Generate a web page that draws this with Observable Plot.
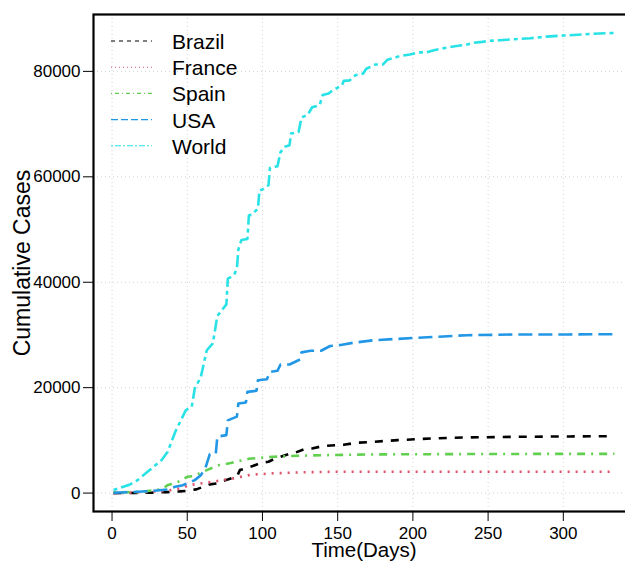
<!DOCTYPE html>
<html>
<head>
<meta charset="utf-8">
<script src="https://cdn.jsdelivr.net/npm/d3@7"></script>
<script src="https://cdn.jsdelivr.net/npm/@observablehq/plot@0.6"></script>
<style>
  html, body { margin: 0; padding: 0; background: #fff; overflow: hidden; }
  #wrap { position: relative; width: 625px; height: 561px; overflow: hidden; }
  #legend { position: absolute; left: 0; top: 0; pointer-events: none; }
</style>
</head>
<body>
<div id="wrap"></div>
<script>
// ---- data ----
const seriesNames = ["Brazil", "France", "Spain", "USA", "World"];
const seriesColors = ["#000000", "#DF536B", "#61D04F", "#2297E6", "#28E2E5"];
const seriesDash = ["8,8", "2,6", "2,6,8,6", "14,6", "4,4,12,4"];
const legendDash = ["4,4", "1,3", "1,3,4,3", "7,3", "2,2,6,2"];

const brazilDays = [1,25,37,45,50,56,65,70,77,83,85,92,94,99,104,110,112,119,122,128,133,140,149,154,162,174,190,213,236,270,304,334];
const brazilCases = [0,60,190,320,440,700,1650,1840,2600,3100,4360,5000,5180,5750,5940,6770,6880,7530,7700,8340,8470,8910,9100,9160,9540,9730,10050,10370,10560,10680,10750,10800];

const franceDays = [1,12,37,41,46,51,56,62,67,73,79,83,89,94,100,105,112,123,134,145,200,260,334];
const franceCases = [0,60,440,700,890,1500,1700,1950,2140,2460,2700,2900,3300,3540,3600,3730,3790,3920,3980,4040,4040,4040,4040];

const spainDays = [1,17,25,33,37,44,50,54,63,71,79,85,91,107,123,140,156,174,250,334];
const spainCases = [150,190,440,700,1500,2140,3090,3220,4360,5310,5700,6120,6500,6880,7070,7200,7260,7340,7420,7450];

const usaDays = [1,17,28,37,42,47,55,59,62,65,69,70,76,77,83,84,89,90,96,97,103,105,110,112,118,125,126,132,139,145,152,160,174,202,236,270,304,334];
const usaCases = [60,250,440,700,1200,1500,2460,3400,4700,7400,7530,10700,11000,13800,14500,17000,17200,19200,19400,21400,21600,23000,23200,24400,24400,25350,26700,27000,27000,27900,28100,28500,29000,29450,29950,30100,30100,30150];

const worldDays = [1,12,17,25,33,37,42,49,53,55,59,63,67,70,73,76,77,81,83,84,86,90,91,93,97,98,100,104,105,110,112,115,118,119,124,126,130,133,138,140,144,147,150,153,154,158,162,167,169,175,180,183,188,191,198,204,209,214,222,229,236,240,246,251,258,267,278,289,300,313,324,334];
const worldCases = [600,1650,2460,4360,6260,7830,11600,15700,16400,19850,22000,27100,28400,33600,34700,35800,40700,41300,42600,46200,48000,48200,52700,52800,54000,57400,57600,58400,61700,62000,64700,65700,66000,68200,68500,71300,71700,73200,73600,75500,75800,76500,76900,77400,78200,78300,79300,79600,80500,81300,81300,82200,82600,82900,83200,83600,83600,84000,84500,84800,85100,85400,85600,85800,85900,86100,86300,86600,86800,87000,87200,87300];

const xTicks = [0, 50, 100, 150, 200, 250, 300];
const yTicks = [0, 20000, 40000, 60000, 80000];
const xTitle = "Time(Days)";
const yTitle = "Cumulative Cases";

// ---- build ----
const daysList = [brazilDays, franceDays, spainDays, usaDays, worldDays];
const casesList = [brazilCases, franceCases, spainCases, usaCases, worldCases];
const series = seriesNames.map((name, i) => ({
  name, color: seriesColors[i], dash: seriesDash[i], ldash: legendDash[i],
  data: daysList[i].map((d, j) => ({day: d, cases: casesList[i][j]}))
}));

// R-style 4% axis extension
const allDays = daysList.flat(), allCases = casesList.flat();
const dx0 = d3.min(allDays), dx1 = d3.max(allDays);
const dy0 = d3.min(allCases), dy1 = d3.max(allCases);
const xPad = (dx1 - dx0) * 0.04, yPad = (dy1 - dy0) * 0.04;

const font = "'Liberation Sans', Arial, Helvetica, sans-serif";

const chart = Plot.plot({
  width: 625,
  height: 561,
  marginLeft: 93,
  marginRight: -9,
  marginTop: 14,
  marginBottom: 50,
  style: {fontFamily: font, fontSize: "17px", color: "#000", background: "#fff"},
  x: {domain: [dx0 - xPad, dx1 + xPad], ticks: xTicks, tickSize: 10, tickPadding: 5, label: null, tickFormat: d => String(d)},
  y: {domain: [dy0 - yPad, dy1 + yPad], ticks: yTicks, tickSize: 10, tickPadding: 3, label: null, tickFormat: d => String(d)},
  marks: [
    Plot.ruleX(xTicks, {stroke: "#d3d3d3", strokeDasharray: "1,3", strokeWidth: 1}),
    Plot.ruleY(yTicks, {stroke: "#d3d3d3", strokeDasharray: "1,3", strokeWidth: 1}),
    ...series.map(s => Plot.line(s.data, {
      x: "day", y: "cases", stroke: s.color, strokeWidth: 2.6,
      strokeDasharray: s.dash, strokeLinecap: "butt", strokeLinejoin: "round"
    })),
    Plot.frame({stroke: "#000", strokeWidth: 2.2}),
    Plot.text([xTitle], {frameAnchor: "bottom", dy: 45.5, fontSize: 20.5, lineAnchor: "bottom", textAnchor: "middle", fill: "#000"}),
    Plot.text([yTitle], {frameAnchor: "left", dx: -71, rotate: -90, fontSize: 23, lineAnchor: "middle", textAnchor: "middle", fill: "#000"})
  ]
});
chart.style.maxWidth = "none";
document.getElementById("wrap").appendChild(chart);

// ---- legend overlay ----
const leg = d3.select("#wrap").append("svg")
  .attr("id", "legend").attr("width", 625).attr("height", 561);
const lg = leg.selectAll("g").data(series).join("g")
  .attr("transform", (d, i) => `translate(0, ${41 + i * 26.2})`);
lg.append("line").attr("x1", 111).attr("x2", 152).attr("y1", 0).attr("y2", 0)
  .attr("stroke", d => d.color).attr("stroke-width", 1.1)
  .attr("stroke-dasharray", d => d.ldash);
lg.append("text").attr("x", 172).attr("y", 8).text(d => d.name)
  .attr("font-family", font).attr("font-size", 21).attr("fill", "#000");
</script>
</body>
</html>
